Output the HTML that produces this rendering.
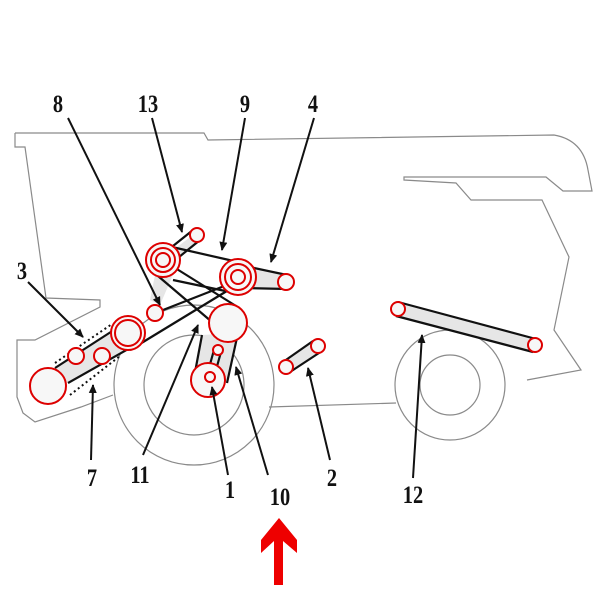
<!DOCTYPE html>
<html><head><style>
html,body{margin:0;padding:0;background:#fff}
svg{display:block}
.lbl{font-family:"Liberation Serif",serif;font-weight:bold;font-size:24px;fill:#111}
</style></head><body>
<svg width="600" height="600" viewBox="0 0 600 600" xmlns="http://www.w3.org/2000/svg">
<defs>
<marker id="ah" markerWidth="10" markerHeight="10" refX="8" refY="5" orient="auto" markerUnits="userSpaceOnUse">
<path d="M0,1 L9,5 L0,9 Z" fill="#111"/>
</marker>
</defs>
<g fill="none" stroke="#8a8a8a" stroke-width="1.2">
<path d="M15,133 L204,133 L208,140 L554,135 Q583,140 588,170 L592,191 L563,191 L546,177 L404,177 L404,180 L456,183 L471,200 L542,200 L569,257 L554,330 L581,370 L527,380"/>
<path d="M15,133 L15,147 L25,147 L46,298 L100,300 L100,307 L35,340 L17,340 L17,397 L23,413 L35,422 L81,407 L113,395"/>
<path d="M269,407 L396,403"/>
<circle cx="194" cy="385" r="80"/>
<circle cx="194" cy="385" r="50"/>
<circle cx="450" cy="385" r="55"/>
<circle cx="450" cy="385" r="30"/>
</g>
<g fill="#e6e6e6" stroke="none">
<polygon points="238,262 287,275 287,289 243,288"/>
<polygon points="155,275 175,270 160,305 150,300"/>
<polygon points="202,335 238,333 227,383 193,383"/>
<polygon points="55,368 117,328 130,348 68,383"/>
<polygon points="400,303 536,338 534,352 396,316"/>
<polygon points="283,362 313,341 322,351 290,372"/>
<polygon points="207,352 220,348 213,378 205,376"/>
<polygon points="160,260 197,232 200,240 168,266"/>
</g>
<g stroke="#111" stroke-width="2.2" fill="none">
<line x1="163" y1="254" x2="193" y2="230"/>
<line x1="168" y1="266" x2="200" y2="240"/>
<line x1="172" y1="247" x2="238" y2="262"/>
<line x1="173" y1="280" x2="230" y2="292"/>
<line x1="240" y1="265" x2="287" y2="275"/>
<line x1="243" y1="288" x2="287" y2="289"/>
<line x1="172" y1="266" x2="236" y2="306"/>
<line x1="158" y1="276" x2="212" y2="322"/>
<line x1="240" y1="283" x2="130" y2="350"/>
<line x1="232" y1="283" x2="163" y2="310"/>
<line x1="202" y1="335" x2="193" y2="383"/>
<line x1="238" y1="333" x2="227" y2="383"/>
<line x1="55" y1="368" x2="117" y2="328"/>
<line x1="68" y1="383" x2="130" y2="348"/>
<line x1="207" y1="375" x2="214" y2="350"/>
<line x1="214" y1="377" x2="221" y2="352"/>
<line x1="398" y1="302" x2="536" y2="339"/>
<line x1="396" y1="316" x2="533" y2="352"/>
<line x1="283" y1="362" x2="313" y2="341"/>
<line x1="290" y1="372" x2="322" y2="351"/>
</g>
<g stroke="#111" stroke-width="2" stroke-dasharray="2,3" fill="none">
<line x1="55" y1="363" x2="112" y2="324"/>
<line x1="70" y1="395" x2="120" y2="356"/>
</g>
<g stroke="#d00" stroke-width="2" fill="#f7f7f7">
<circle cx="163" cy="260" r="17"/><circle cx="163" cy="260" r="12"/><circle cx="163" cy="260" r="7"/>
<circle cx="197" cy="235" r="7"/>
<circle cx="238" cy="277" r="18"/><circle cx="238" cy="277" r="13"/><circle cx="238" cy="277" r="7"/>
<circle cx="286" cy="282" r="8"/>
<circle cx="155" cy="313" r="8"/>
<circle cx="228" cy="323" r="19"/>
<circle cx="128" cy="333" r="17"/><circle cx="128" cy="333" r="13"/>
<circle cx="76" cy="356" r="8"/>
<circle cx="102" cy="356" r="8"/>
<circle cx="48" cy="386" r="18"/>
<circle cx="208" cy="380" r="17"/><circle cx="210" cy="377" r="5"/>
<circle cx="218" cy="350" r="5"/>
<circle cx="286" cy="367" r="7"/><circle cx="318" cy="346" r="7"/>
<circle cx="398" cy="309" r="7"/><circle cx="535" cy="345" r="7"/>
</g>
<g stroke="#111" stroke-width="2" marker-end="url(#ah)">
<line x1="68" y1="118" x2="160" y2="305"/>
<line x1="152" y1="118" x2="182" y2="232"/>
<line x1="245" y1="118" x2="222" y2="250"/>
<line x1="314" y1="118" x2="271" y2="262"/>
<line x1="28" y1="282" x2="83" y2="337"/>
<line x1="91" y1="460" x2="93" y2="385"/>
<line x1="143" y1="455" x2="198" y2="325"/>
<line x1="228" y1="475" x2="212" y2="387"/>
<line x1="268" y1="475" x2="236" y2="367"/>
<line x1="330" y1="460" x2="308" y2="368"/>
<line x1="413" y1="478" x2="422" y2="335"/>
</g>
<g class="lbl" text-anchor="middle">
<text transform="translate(58,112) scale(0.85,1.05)">8</text>
<text transform="translate(148,112) scale(0.85,1.05)">13</text>
<text transform="translate(245,112) scale(0.85,1.05)">9</text>
<text transform="translate(313,112) scale(0.85,1.05)">4</text>
<text transform="translate(22,279) scale(0.85,1.05)">3</text>
<text transform="translate(92,486) scale(0.85,1.05)">7</text>
<text transform="translate(140,483) scale(0.85,1.05)">11</text>
<text transform="translate(230,498) scale(0.85,1.05)">1</text>
<text transform="translate(280,505) scale(0.85,1.05)">10</text>
<text transform="translate(332,486) scale(0.85,1.05)">2</text>
<text transform="translate(413,503) scale(0.85,1.05)">12</text>
</g>
<polygon points="279,518 297,540 297,553 283,541 283,585 274,585 274,541 261,553 261,540" fill="#e00"/>
</svg>
</body></html>
